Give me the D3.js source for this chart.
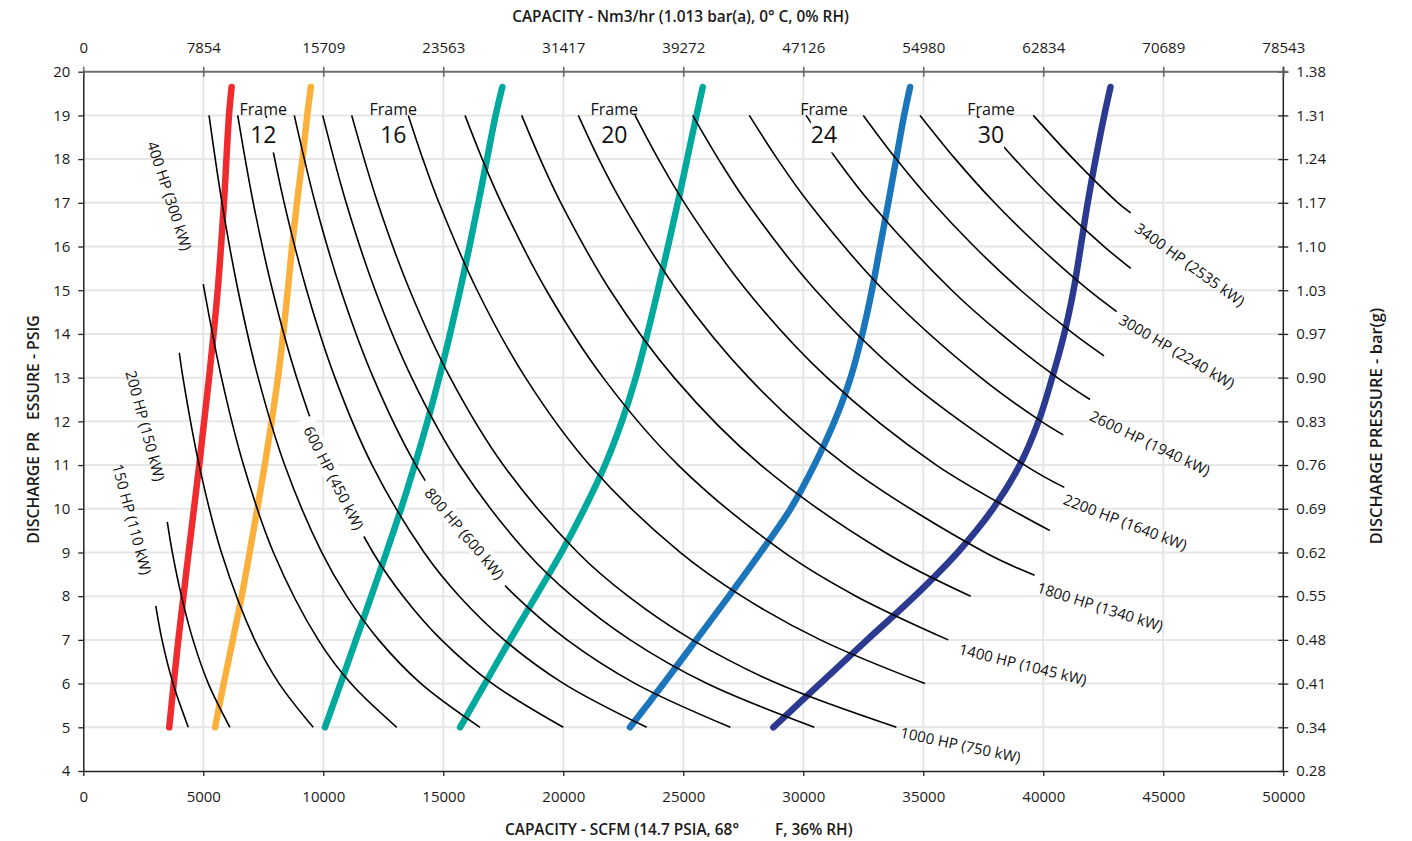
<!DOCTYPE html>
<html><head><meta charset="utf-8">
<script src="https://cdn.jsdelivr.net/npm/d3@7"></script>
<style>
html,body{margin:0;padding:0;background:#fff;}
svg{display:block;font-family:"Open Sans","Noto Sans",sans-serif;}
</style></head><body>
<svg id="chart" width="1412" height="841"></svg>
<script>
// ---------- axis ticks ----------
const scfmTicks = [0,5000,10000,15000,20000,25000,30000,35000,40000,45000,50000];
const nm3Ticks = [0,7854,15709,23563,31417,39272,47126,54980,62834,70689,78543];
const psigTicks = [4,5,6,7,8,9,10,11,12,13,14,15,16,17,18,19,20];
const barLabels = ["0.28","0.34","0.41","0.48","0.55","0.62","0.69","0.76","0.83","0.90","0.97","1.03","1.10","1.17","1.24","1.31","1.38"];

// ---------- frame limit curves  [psig, scfm] ----------
const frameRed = [[5,3580],[7,3960],[9,4390],[11,4830],[13,5240],[15,5600],[17,5860],[19,6070],[19.65,6180]];
const frameOrange = [[5,5490],[6,5850],[7,6230],[8,6600],[9,6930],[10,7250],[11,7560],[12,7850],[13,8110],[14,8330],[15,8520],[16,8700],[17,8900],[18,9130],[19,9330],[19.65,9480]];
const frameTeal1 = [[5,10070],[6,10720],[7,11360],[8,12000],[9,12630],[10,13240],[11,13810],[12,14340],[13,14830],[14,15280],[15,15700],[16,16090],[17,16460],[18,16820],[19,17180],[19.65,17460]];
const frameTeal2 = [[5,15700],[6,16740],[7,17780],[8,18860],[9,19920],[10,20880],[11,21740],[12,22440],[13,23020],[14,23500],[15,23940],[16,24360],[17,24770],[18,25160],[19,25550],[19.65,25810]];
const frameBlue = [[5,22780],[6,24180],[7,25540],[8,26900],[9,28220],[10,29470],[11,30460],[12,31300],[13,31970],[14,32460],[15,32860],[16,33200],[17,33540],[18,33870],[19,34200],[19.65,34450]];
const frameNavy = [[5,28750],[6,30700],[7,32660],[8,34640],[9,36430],[10,37900],[11,39020],[12,39800],[13,40370],[14,40870],[15,41260],[16,41560],[17,41850],[18,42180],[19,42540],[19.65,42800]];
const frameColors = ["#ef2b30","#fbb03b","#00a99d","#00a99d","#1b75bb","#2b3990"];

// ---------- constant horsepower curves [psig, scfm] ----------
const hp150 = [[7.78,3020],[7,3280],[6,3740],[5,4375]];
const hp200 = [[9.7,3500],[9,3710],[8,4090],[7,4570],[6,5210],[5,6110]];
const hp300 = [[13.57,4000],[13,4152],[11,4827],[9,5755],[7,7141],[6,8161],[5,9580]];
const hp400 = [[15.14,5000],[15,5044],[13,5757],[11,6676],[9,7923],[7,9790],[6,11154],[5,13060]];
const hp500 = [[19,5240],[17,5779],[15,6446],[13,7286],[11,8391],[9,9935],[8,10978],[7,12308],[6,14071],[5,16530]];
const hp600 = [[19,6433],[17,7082],[15,7883],[13,8892],[11,10217],[9,12071],[8,13325],[7,14923],[6,17043],[5,20000]];
const hp700 = [[19,7612],[17,8370],[15,9306],[13,10485],[11,12034],[9,14202],[8,15667],[7,17536],[6,20017],[5,23475]];
const hp800 = [[19,8792],[17,9660],[15,10732],[13,12082],[11,13856],[9,16339],[8,18017],[7,20158],[6,22999],[5,26963]];
const hp900 = [[19,9975],[17,10953],[15,12160],[13,13682],[11,15680],[9,18479],[8,20371],[7,22785],[6,25989],[5,30458]];
const hp1000 = [[19,11183],[17,12266],[15,13603],[13,15287],[11,17501],[9,20601],[8,22698],[7,25373],[6,28925],[5,33879]];
const hp1200 = [[19,13542],[18,14150],[17,14821],[15,16409],[13,18423],[11,21095],[9,24870],[8,27432],[7,30712],[6,35071]];
const hp1400 = [[19,15904],[18,16624],[17,17419],[15,19293],[13,21660],[11,24788],[9,29199],[8,32196],[7,36038]];
const hp1600 = [[19,18267],[18,19040],[17,19897],[15,21952],[13,24618],[11,28230],[9,33415],[8,36975]];
const hp1800 = [[19,20625],[18,21480],[17,22447],[15,24745],[13,27727],[11,31770],[9,37575],[8.48,39638]];
const hp2000 = [[19,22988],[18,23963],[17,25042],[15,27632],[13,30992],[11,35544],[9.5,40279]];
const hp2200 = [[19,25392],[18,26464],[17,27655],[15,30509],[13,34207],[11,39222],[10.49,40875]];
const hp2400 = [[19,27750],[18,28924],[17,30225],[15,33347],[13,37397],[12,39915],[11.69,40833]];
const hp2600 = [[19,30113],[18,31387],[17,32799],[15,36187],[14,38236],[13,40581],[12.5,41946]];
const hp2800 = [[19,32500],[18,33875],[17,35399],[16,37123],[15,39056],[14,41268],[13.5,42529]];
const hp3000 = [[19,34863],[18,36338],[17,37973],[16,39822],[15,41895],[14.51,43058]];
const hp3200 = [[19,37238],[18,38813],[17,40560],[16,42535],[15.5,43642]];
const hp3400 = [[19,39583],[18,41258],[17,43114],[16.77,43642]];

// ---------- labels ----------
const frameNames = ["12","16","20","24","30"];
const frameNameScfm = [7500,12917,22125,30862,37821];
const hpLabelText = ["150 HP (110 kW)","200 HP (150 kW)","400 HP (300 kW)","600 HP (450 kW)","800 HP (600 kW)",
  "1000 HP (750 kW)","1400 HP (1045 kW)","1800 HP (1340 kW)","2200 HP (1640 kW)","2600 HP (1940 kW)","3000 HP (2240 kW)","3400 HP (2535 kW)"];
const hpLabelScfm = [2050,2604,3613,10454,15904,34063,36508,39771,40875,41992,43229,43908];
const hpLabelPsig = [9.76,11.90,17.16,10.71,9.44,4.90,6.81,8.22,10.24,12.16,14.37,16.47];

// ---------- layout (presentation) ----------
const svg = d3.select("#chart");
const x = d3.scaleLinear().domain([0,50000]).range([83.3,1283.3]);
const xTop = d3.scaleLinear().domain([0,78543]).range([83.3,1283.3]);
const y = d3.scaleLinear().domain([4,20]).range([771,71.7]);
const FONT = '"Open Sans","Noto Sans",sans-serif';

// gridlines
const grid = svg.append("g");
grid.selectAll("line.v").data(scfmTicks.slice(1,-1)).join("line")
  .attr("x1",d=>x(d)).attr("x2",d=>x(d)).attr("y1",y(20)).attr("y2",y(4))
  .attr("stroke","#e6e6e6").attr("stroke-width",2);
grid.selectAll("line.h").data(psigTicks.slice(1,-1)).join("line")
  .attr("x1",x(0)).attr("x2",x(50000)).attr("y1",d=>y(d)).attr("y2",d=>y(d))
  .attr("stroke","#e6e6e6").attr("stroke-width",2);

const line = d3.line().x(d=>x(d[1])).y(d=>y(d[0])).curve(d3.curveCatmullRom.alpha(0.5));

// frame curves
const frames = [frameRed,frameOrange,frameTeal1,frameTeal2,frameBlue,frameNavy];
svg.append("g").selectAll("path").data(frames).join("path")
  .attr("d",line).attr("fill","none")
  .attr("stroke",(d,i)=>frameColors[i]).attr("stroke-width",6.5)
  .attr("stroke-linecap","round");

// HP curves
const hpCurves = [hp150,hp200,hp300,hp400,hp500,hp600,hp700,hp800,hp900,hp1000,hp1200,hp1400,hp1600,hp1800,hp2000,hp2200,hp2400,hp2600,hp2800,hp3000,hp3200,hp3400];
svg.append("g").selectAll("path").data(hpCurves).join("path")
  .attr("d",line).attr("fill","none").attr("stroke","#000").attr("stroke-width",1.6);

// axes
function styleAxis(g){
  g.selectAll("text").attr("font-family",FONT).attr("font-size",15).attr("fill","#1a1a1a");
  g.selectAll(".tick line").attr("stroke","#222").attr("stroke-width",1.3);
}
const gB = svg.append("g").attr("transform",`translate(0,${y(4)})`)
  .call(d3.axisBottom(x).tickValues(scfmTicks).tickFormat(d3.format("d")).tickSizeInner(5).tickSizeOuter(0));
gB.select(".domain").attr("stroke","#222").attr("stroke-width",1.5);
styleAxis(gB); gB.selectAll("text").attr("y",20).attr("dy","0.71em");

const gL = svg.append("g").attr("transform",`translate(${x(0)},0)`)
  .call(d3.axisLeft(y).tickValues(psigTicks).tickFormat(d3.format("d")).tickSizeInner(5).tickSizeOuter(0));
gL.select(".domain").attr("stroke","#222").attr("stroke-width",1.5);
styleAxis(gL); gL.selectAll("text").attr("x",-13);

const gR = svg.append("g").attr("transform",`translate(${x(50000)},0)`)
  .call(d3.axisRight(y).tickValues(psigTicks).tickFormat((d,i)=>barLabels[i]).tickSizeInner(5).tickSizeOuter(0));
gR.select(".domain").attr("stroke","#222").attr("stroke-width",1.5).attr("d",`M0,${y(4)}V${y(20)-5}`);
styleAxis(gR); gR.selectAll(".tick line").attr("x1",-5).attr("x2",5); gR.selectAll("text").attr("x",13);

const gT = svg.append("g").attr("transform",`translate(0,${y(20)})`)
  .call(d3.axisTop(xTop).tickValues(nm3Ticks).tickFormat(d3.format("d")).tickSizeInner(5).tickSizeOuter(0));
gT.select(".domain").attr("stroke","#6e6e6e").attr("stroke-width",2).attr("d",`M${x(0)},0H${x(50000)+5}`);
styleAxis(gT); gT.selectAll(".tick line").attr("y1",-5).attr("y2",5).attr("stroke","#555");
gT.selectAll("text").attr("y",-19).attr("dy","0");

// axis titles
const titleAttrs = (t,fs) => t.attr("font-family",FONT).attr("font-size",fs).attr("font-weight",600).attr("fill","#1a1a1a");
svg.append("text").attr("x",680.5).attr("y",22).attr("text-anchor","middle")
  .text("CAPACITY - Nm3/hr (1.013 bar(a), 0° C, 0% RH)").call(titleAttrs,15.4);
svg.append("text").attr("x",739).attr("y",834.5).attr("text-anchor","end")
  .text("CAPACITY - SCFM (14.7 PSIA, 68°").call(titleAttrs,15.4);
svg.append("text").attr("x",775).attr("y",834.5).attr("text-anchor","start")
  .text("F, 36% RH)").call(titleAttrs,15.4);
svg.append("text").attr("transform","translate(33,432) rotate(-90)").attr("text-anchor","end")
  .attr("dominant-baseline","central").text("DISCHARGE PR").call(titleAttrs,15.8);
svg.append("text").attr("transform","translate(33,420) rotate(-90)").attr("text-anchor","start")
  .attr("dominant-baseline","central").text("ESSURE - PSIG").call(titleAttrs,15.8);
svg.append("text").attr("transform","translate(1375,426) rotate(-90)").attr("text-anchor","middle")
  .attr("dominant-baseline","central").text("DISCHARGE PRESSURE - bar(g)").call(titleAttrs,16.5);

// frame labels
const fl = svg.append("g");
frameNames.forEach((n,i)=>{
  const cx = x(frameNameScfm[i]);
  fl.append("text").attr("x",cx).attr("y",y(19)-0.5).attr("text-anchor","middle")
    .attr("font-family",FONT).attr("font-size",16).attr("fill","#111").text("Frame");
  const t = fl.append("text").attr("x",cx).attr("y",y(19)+28).attr("text-anchor","middle")
    .attr("font-family",FONT).attr("font-size",23).attr("fill","#111").text(n);
  const bb = t.node().getBBox();
  fl.insert("rect", function(){return t.node();})
    .attr("x",bb.x).attr("width",bb.width).attr("y",y(19)+2.5).attr("height",34.5).attr("fill","#fff");
});

// HP labels
const hpAngles = [75,75,72,63,50,12,14,17.5,21,25.6,30.5,35.7];
const hl = svg.append("g");
hpLabelText.forEach((s,i)=>{
  const centered = i < 5;
  const g = hl.append("g").attr("transform",`translate(${x(hpLabelScfm[i])},${y(hpLabelPsig[i])}) rotate(${hpAngles[i]})`);
  const t = g.append("text").attr("text-anchor",centered?"middle":"start").attr("dominant-baseline","central")
    .attr("font-family",FONT).attr("font-size",15).attr("fill","#111").text(s);
  if(i===3 || i===4){
    const bb = t.node().getBBox();
    g.insert("rect","text").attr("x",bb.x-9).attr("y",-9).attr("width",bb.width+18).attr("height",18).attr("fill","#fff");
  }
});
</script>
</body></html>
